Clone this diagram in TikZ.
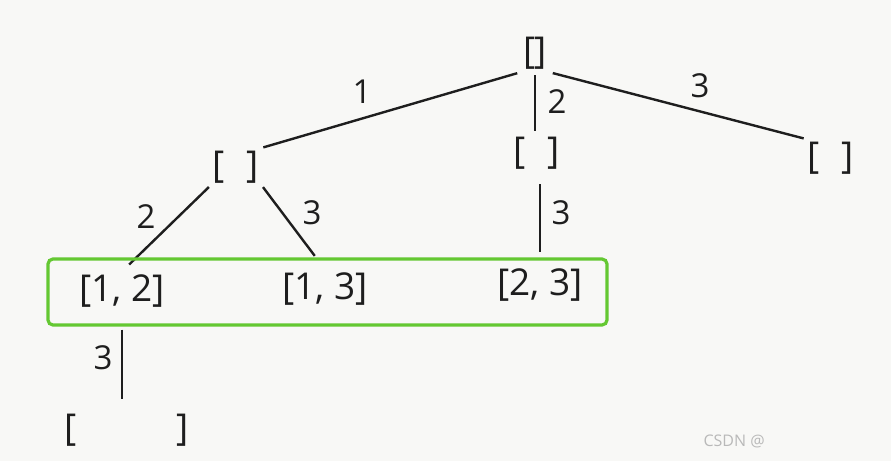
\documentclass[tikz,border=0pt]{standalone}
\usepackage{fontspec}
\setmainfont{Open Sans}
\definecolor{bg}{RGB}{248,248,246}
\definecolor{boxgreen}{RGB}{100,200,50}
\definecolor{ink}{RGB}{30,30,30}
\begin{document}
\begin{tikzpicture}[x=1pt,y=-1pt,
  lbl/.style={font=\fontsize{33}{36}\selectfont, text=ink, inner sep=2pt},
  st/.style={font=\fontsize{37}{42}\selectfont, text=ink, inner sep=3pt},
  edge/.style={draw=ink, line width=2.4pt}]
\fill[bg] (0,0) rectangle (891,461);
\useasboundingbox (0,0) rectangle (891,461);
% states
\node[st] (root) at (535,53) {[\kern-1pt]};
\node[st] (a) at (236,167) {[\hspace{22pt}]};
\node[st] (b) at (537,153) {[\hspace{22pt}]};
\node[st] (c) at (831,158) {[\hspace{22pt}]};
\node[st] (ab) at (122,291) {[1, 2]};
\node[st] (ac) at (325,289) {[1, 3]};
\node[st] (bc) at (540,285) {[2, 3]};
\node[st] (abc) at (127,430) {[\hspace{100pt}]};
% edges
\draw[edge, shorten <=3pt, shorten >=1pt] (root.south west) -- (a.north east);
\draw[edge, shorten <=3pt, shorten >=1pt] (root.south east) -- (c.north west);
\draw[edge, shorten <=3pt, shorten >=3pt] (root.south) -- (root.south |- b.north);
\draw[edge, shorten <=1pt, shorten >=10pt] (a.south west) -- (ab.north);
\draw[edge, shorten <=1pt, shorten >=17pt] (a.south east) -- (ac.north);
\draw[edge, shorten <=12pt, shorten >=13pt] (bc.north |- b.south) -- (bc.north);
\draw[edge, shorten <=19pt, shorten >=12pt] (ab.south) -- (ab.south |- abc.north);
% edge labels
\node[lbl] (l1) at (362,92) {1};
\node[lbl] (l2) at (557,102) {2};
\node[lbl] (l3) at (700,86) {3};
\node[lbl] (l4) at (146,217) {2};
\node[lbl] (l5) at (312,213) {3};
\node[lbl] (l6) at (561,213) {3};
\node[lbl] (l7) at (103,358) {3};
% selection box
\draw[boxgreen, line width=3.2pt, rounded corners=5pt] (48,259) rectangle (607,325);
% watermark
\node[font=\fontsize{16}{18}\selectfont, text=gray!55, anchor=west] (wm) at (700,441) {CSDN @};
\end{tikzpicture}
\end{document}
